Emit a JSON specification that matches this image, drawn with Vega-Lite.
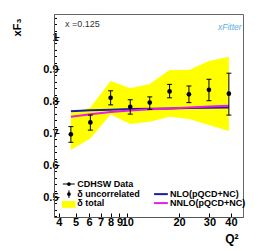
{
"$schema": "https://vega.github.io/schema/vega-lite/v6.json",
"width": 189, "height": 203,
"autosize": {"type": "none"},
"padding": {"left": 54, "top": 14, "right": 23, "bottom": 34},
"background": "white",
"config": {"font": "Liberation Sans", "view": {"stroke": "#666", "strokeWidth": 1}, "axis": {"labelOverlap": false}},
"datasets": {
"pts": [
{"q2": 4.7, "y": 0.696, "lo": 0.671, "hi": 0.720, "up": 0.7625, "dn": 0.647},
{"q2": 6.1, "y": 0.733, "lo": 0.709, "hi": 0.756, "up": 0.780, "dn": 0.683},
{"q2": 8.0, "y": 0.810, "lo": 0.788, "hi": 0.832, "up": 0.8625, "dn": 0.758},
{"q2": 10.4, "y": 0.782, "lo": 0.759, "hi": 0.804, "up": 0.840, "dn": 0.728},
{"q2": 13.5, "y": 0.795, "lo": 0.774, "hi": 0.813, "up": 0.853, "dn": 0.735},
{"q2": 17.6, "y": 0.830, "lo": 0.810, "hi": 0.852, "up": 0.897, "dn": 0.751},
{"q2": 22.8, "y": 0.821, "lo": 0.795, "hi": 0.847, "up": 0.897, "dn": 0.744},
{"q2": 29.8, "y": 0.835, "lo": 0.801, "hi": 0.868, "up": 0.925, "dn": 0.725},
{"q2": 38.9, "y": 0.823, "lo": 0.756, "hi": 0.887, "up": 0.938, "dn": 0.706}
],
"theory": [
{"q2": 4.7, "v": 0.768, "s": "NLO"}, {"q2": 6.1, "v": 0.771, "s": "NLO"}, {"q2": 8.0, "v": 0.773, "s": "NLO"},
{"q2": 10.4, "v": 0.775, "s": "NLO"}, {"q2": 13.5, "v": 0.776, "s": "NLO"}, {"q2": 17.6, "v": 0.777, "s": "NLO"},
{"q2": 22.8, "v": 0.778, "s": "NLO"}, {"q2": 29.8, "v": 0.779, "s": "NLO"}, {"q2": 38.9, "v": 0.780, "s": "NLO"},
{"q2": 4.7, "v": 0.751, "s": "NNLO"}, {"q2": 6.1, "v": 0.759, "s": "NNLO"}, {"q2": 8.0, "v": 0.766, "s": "NNLO"},
{"q2": 10.4, "v": 0.770, "s": "NNLO"}, {"q2": 13.5, "v": 0.774, "s": "NNLO"}, {"q2": 17.6, "v": 0.777, "s": "NNLO"},
{"q2": 22.8, "v": 0.780, "s": "NNLO"}, {"q2": 29.8, "v": 0.783, "s": "NNLO"}, {"q2": 38.9, "v": 0.785, "s": "NNLO"}
],
"legtext": [
{"q2": 5.12, "v": 0.5406, "label": "CDHSW Data"},
{"q2": 5.12, "v": 0.509, "label": "δ uncorrelated"},
{"q2": 5.12, "v": 0.481, "label": "δ total"},
{"q2": 17.7, "v": 0.509, "label": "NLO(pQCD+NC)"},
{"q2": 17.7, "v": 0.481, "label": "NNLO(pQCD+NC)"}
],
"leglines": [
{"q2": 14.3, "v": 0.509, "s": "NLO"}, {"q2": 17.2, "v": 0.509, "s": "NLO"},
{"q2": 14.3, "v": 0.481, "s": "NNLO"}, {"q2": 17.2, "v": 0.481, "s": "NNLO"}
],
"legdata": [{"q2": 4.22, "v": 0.5406}, {"q2": 4.95, "v": 0.5406}],
"legpts": [{"q2": 4.58, "v": 0.5406}, {"q2": 4.58, "v": 0.509}],
"legerr": [{"q2": 4.58, "lo": 0.497, "hi": 0.521}],
"legrect": [{"x1": 4.17, "x2": 5.0, "y1": 0.466, "y2": 0.4875}],
"notes": [
{"q2": 4.34, "v": 1.0405, "label": "x =0.125"}
],
"logo": [{"q2": 39.4, "v": 1.031, "label": "xFitter"}]
},
"layer": [
{
"data": {"name": "pts"},
"mark": {"type": "area", "color": "#ffff00", "opacity": 1},
"encoding": {
"x": {"field": "q2", "type": "quantitative", "scale": {"type": "log", "domain": [3.75, 47], "nice": false},
"axis": {"title": "Q²", "titleFontSize": 12, "titleFontWeight": "bold", "titleColor": "black", "titleAlign": "right", "titleAnchor": null, "titleX": 184, "titleY": 25, "titleBaseline": "alphabetic",
"values": [4, 5, 6, 7, 8, 9, 10, 20, 30, 40], "tickCount": 100, "format": "~g", "labelOverlap": false, "labelFlush": false, "labelBound": false,
"labelFontSize": 11, "labelFontWeight": "bold", "labelColor": "black", "labelPadding": 3,
"tickSize": -4, "tickColor": "black", "domainColor": "#555", "grid": false}},
"y": {"field": "dn", "type": "quantitative", "scale": {"domain": [0.4375, 1.072], "nice": false, "zero": false},
"axis": {"title": "xF₃", "titleFontSize": 11, "titleFontWeight": "bold", "titleColor": "black", "titleAngle": -90, "titleAlign": "right", "titleAnchor": null, "titleX": -37, "titleY": 4, "titleBaseline": "middle",
"values": [0.44, 0.46, 0.48, 0.5, 0.52, 0.54, 0.56, 0.58, 0.6, 0.62, 0.64, 0.66, 0.68, 0.7, 0.72, 0.74, 0.76, 0.78, 0.8, 0.82, 0.84, 0.86, 0.88, 0.9, 0.92, 0.94, 0.96, 0.98, 1.0, 1.02, 1.04, 1.06],
"tickCount": 100,
"labelExpr": "abs(datum.value*10 - round(datum.value*10)) < 0.001 ? format(datum.value, '~g') : ''",
"labelFontSize": 11,
"labelOverlap": false, "labelFlush": false, "labelBound": false,
"labelFontWeight": "bold", "labelColor": "black", "labelPadding": 1,
"tickSize": {"condition": {"test": "abs(datum.value*10 - round(datum.value*10)) < 0.001", "value": -5}, "value": -2.5},
"tickColor": "black", "domainColor": "#555", "grid": false}},
"y2": {"field": "up"}
}
},
{
"data": {"name": "theory"},
"mark": {"type": "line", "strokeWidth": 2},
"encoding": {
"x": {"field": "q2", "type": "quantitative"},
"y": {"field": "v", "type": "quantitative"},
"color": {"field": "s", "type": "nominal", "scale": {"domain": ["NLO", "NNLO"], "range": ["#1c1ca0", "#e41ee4"]}, "legend": null}
}
},
{
"data": {"name": "pts"},
"mark": {"type": "rule", "color": "black", "strokeWidth": 1},
"encoding": {
"x": {"field": "q2", "type": "quantitative"},
"y": {"field": "lo", "type": "quantitative"},
"y2": {"field": "hi"}
}
},
{
"data": {"name": "pts"},
"mark": {"type": "tick", "orient": "horizontal", "color": "black", "size": 5, "thickness": 1, "opacity": 1},
"encoding": {
"x": {"field": "q2", "type": "quantitative"},
"y": {"field": "lo", "type": "quantitative"}
}
},
{
"data": {"name": "pts"},
"mark": {"type": "tick", "orient": "horizontal", "color": "black", "size": 5, "thickness": 1, "opacity": 1},
"encoding": {
"x": {"field": "q2", "type": "quantitative"},
"y": {"field": "hi", "type": "quantitative"}
}
},
{
"data": {"name": "pts"},
"mark": {"type": "point", "filled": true, "color": "black", "size": 22, "opacity": 1},
"encoding": {
"x": {"field": "q2", "type": "quantitative"},
"y": {"field": "y", "type": "quantitative"}
}
},
{
"data": {"name": "legrect"},
"mark": {"type": "rect", "color": "#ffff00"},
"encoding": {
"x": {"field": "x1", "type": "quantitative"}, "x2": {"field": "x2"},
"y": {"field": "y1", "type": "quantitative"}, "y2": {"field": "y2"}
}
},
{
"data": {"name": "legdata"},
"mark": {"type": "line", "color": "black", "strokeWidth": 1},
"encoding": {
"x": {"field": "q2", "type": "quantitative"},
"y": {"field": "v", "type": "quantitative"}
}
},
{
"data": {"name": "leglines"},
"mark": {"type": "line", "strokeWidth": 2},
"encoding": {
"x": {"field": "q2", "type": "quantitative"},
"y": {"field": "v", "type": "quantitative"},
"color": {"field": "s", "type": "nominal", "scale": {"domain": ["NLO", "NNLO"], "range": ["#1c1ca0", "#e41ee4"]}, "legend": null}
}
},
{
"data": {"name": "legerr"},
"mark": {"type": "rule", "color": "black", "strokeWidth": 1},
"encoding": {
"x": {"field": "q2", "type": "quantitative"},
"y": {"field": "lo", "type": "quantitative"}, "y2": {"field": "hi"}
}
},
{
"data": {"name": "legpts"},
"mark": {"type": "point", "filled": true, "color": "black", "size": 14, "opacity": 1},
"encoding": {
"x": {"field": "q2", "type": "quantitative"},
"y": {"field": "v", "type": "quantitative"}
}
},
{
"data": {"name": "legtext"},
"mark": {"type": "text", "align": "left", "baseline": "middle", "fontSize": 9, "fontWeight": "bold", "color": "black"},
"encoding": {
"x": {"field": "q2", "type": "quantitative"},
"y": {"field": "v", "type": "quantitative"},
"text": {"field": "label"}
}
},
{
"data": {"name": "notes"},
"mark": {"type": "text", "align": "left", "baseline": "middle", "fontSize": 9, "color": "#333"},
"encoding": {
"x": {"field": "q2", "type": "quantitative"},
"y": {"field": "v", "type": "quantitative"},
"text": {"field": "label"}
}
},
{
"data": {"name": "logo"},
"mark": {"type": "text", "align": "center", "baseline": "middle", "fontSize": 8.5, "fontStyle": "italic", "color": "#5aaee0"},
"encoding": {
"x": {"field": "q2", "type": "quantitative"},
"y": {"field": "v", "type": "quantitative"},
"text": {"field": "label"}
}
}
]
}
